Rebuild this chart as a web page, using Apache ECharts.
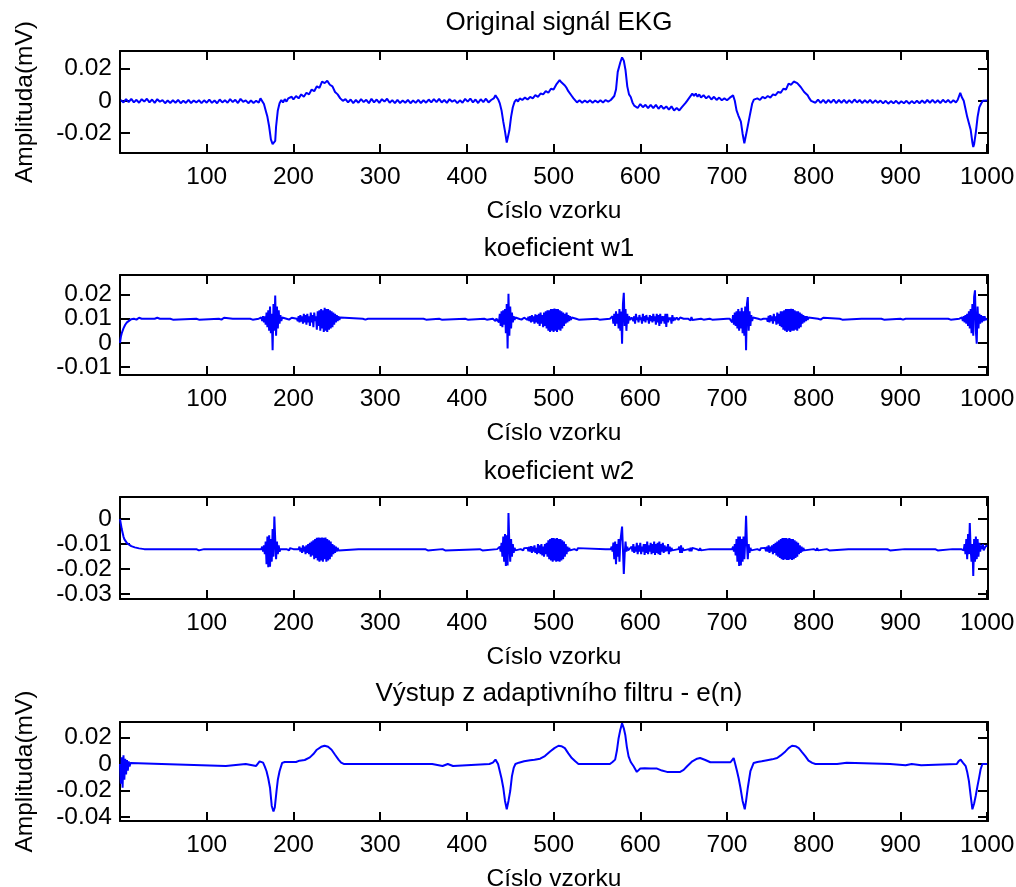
<!DOCTYPE html>
<html>
<head>
<meta charset="utf-8">
<script src="https://cdn.jsdelivr.net/npm/echarts@6/dist/echarts.min.js"></script>
<style>
html,body{margin:0;padding:0;background:#fff;}
#chart{width:1016px;height:887px;}
</style>
</head>
<body>
<div id="chart"></div>
<script>
// ---------- DATA (sample index, value in 1e-3 mV units) ----------
const titles = ['Original signál EKG', 'koeficient w1', 'koeficient w2', 'Výstup z adaptivního filtru - e(n)'];
const xLabel = 'Císlo vzorku';
const yLabel = 'Amplituda(mV)';
const xTicks = [100, 200, 300, 400, 500, 600, 700, 800, 900, 1000];
const yTicks1 = [-0.02, 0, 0.02];
const yTicks2 = [-0.01, 0, 0.01, 0.02];
const yTicks3 = [-0.03, -0.02, -0.01, 0];
const yTicks4 = [-0.04, -0.02, 0, 0.02];
const yRange1 = [-0.0325, 0.031];
const yRange2 = [-0.0132, 0.028];
const yRange3 = [-0.0319, 0.0088];
const yRange4 = [-0.0432, 0.0318];

const ekgOriginal = [
[1,0.5],[4,-1],[7,1],[10,-0.8],[13,1.2],[16,-1],[19,0.6],[22,-1.2],[25,1],[28,-0.5],[31,1.3],[34,-1],[37,0.8],[40,-1.3],[43,1],[46,-0.6],[49,0.4],[52,-1.5],[55,0.2],[58,-1.4],[61,0.3],[64,-1.2],[67,0.5],[70,-1.5],[73,0],[76,-1.3],[79,0.6],[82,-1.4],[85,0.2],[88,-1],[91,0.4],[94,-1.5],[97,0.3],[100,-1.2],[103,0.7],[106,-1.3],[109,0.2],[112,-1.5],[115,0.8],[118,-1],[121,0.4],[124,-1.2],[127,1],[130,-0.8],[133,0.6],[136,-1.4],[139,1.2],[142,-0.6],[145,0.3],[148,-1.5],[151,0.2],[154,-1.4],[157,0],[160,-1.2],
[162,1.5],[164,1.2],[166,-2],[168,-6],[170,-10],[172,-16],[174,-24],[176,-27],[178,-27],[179,-25],[180,-16],[182,-6],[184,-1.5],[186,0.5],[188,-1],[190,1],
[192,-0.5],[194,1.5],[196,0.5],[198,2.5],[200,0.8],[203,3],[206,1.5],[209,4],[212,2.5],[215,5],[218,4],[221,7],[224,6],[227,9],[230,8],[233,12],[236,11],[239,12.5],[242,10],[245,9],[248,5.5],[251,4],[254,1.5],[257,0],[260,1],[263,-1],
[266,0.8],[269,-1.4],[272,0.5],[275,-1.2],[278,1],[281,-0.8],[284,0.6],[287,-1.5],[290,1.2],[293,-1],[296,0.8],[299,-1.3],[302,1],[305,-0.5],[308,1.3],[311,-1.2],[314,0.4],[317,-1.5],[320,0.6],[323,-1.4],[326,0.2],[329,-1.2],[332,0.5],[335,-1.5],[338,0.2],[341,-1.3],[344,0.6],[347,-1.4],[350,0.3],[353,-1.2],[356,0.8],[359,-1],[362,1],[365,-0.8],[368,1.2],[371,-1],[374,0.5],[377,-1.3],[380,1],[383,-0.6],[386,0.4],[389,-1.5],[392,0.3],[395,-1.2],[398,1.2],[401,-0.5],[404,1.4],[407,-1],[410,0.8],[413,-1.4],[416,1],[419,-0.8],[422,1.3],[425,-1],[428,0.5],
[431,1.5],[433,3.4],[436,1],[438,-1.6],[440,-6],[442,-13],[444,-19],[446,-26],[447,-27],[449,-18.5],[451,-10],[453,-4],[455,-0.7],[457,0.8],
[459,-0.5],[461,1.5],[464,0.5],[467,2],[470,0.8],[473,2.4],[476,1.5],[479,3.5],[482,2.5],[485,4.5],[488,4],[491,6],[494,5],[497,7.5],[500,7],[503,10],[505,10.5],[507,12.8],[509,11.5],[511,12],[513,9.5],[515,8],[517,6],[519,5.5],[521,3],[523,1.5],[525,0.3],[527,-1],
[530,0.3],[533,-1.2],[536,0.2],[539,-1],[542,0.3],[545,-1.2],[548,0.2],[551,-1],[554,0.4],[557,-1],[560,0.5],[563,-0.5],[566,0.5],
[568,1],[570,3],[572,7],[574,18],[576,22],[577,24],[579,27],[580,27.5],[581,25],[583,19],[585,9],[587,4],[589,2.4],[591,-1],[593,-3],[595,-2],[597,-4.5],[600,-2],[603,-4],[606,-2.5],[609,-4.5],[612,-2.5],[615,-4.5],[618,-2.5],[621,-5],[624,-3],[627,-5],[630,-3.5],[633,-5.5],[636,-3.5],[639,-6],[642,-4.5],[645,-6],[648,-4],[650,-3],[652,-1.5],[654,0],[656,1.5],[658,2],[660,4.5],[662,3],[664,4.5],[666,2.5],[668,4],[670,2],[673,3.5],[676,1.5],[679,3],[682,0.8],[685,2.5],[688,0.5],[691,2],[694,0.3],[697,1.5],[700,0.3],[703,1.8],[705,2.5],[707,3.4],
[709,0],[711,-6],[713,-9],[716,-13],[718,-20.5],[720,-26.4],[721,-26],[723,-18.4],[726,-10],[729,-1.8],[731,0.7],[733,-0.5],
[735,1.5],[738,0.5],[741,2.5],[744,1.5],[747,3],[750,2],[753,4],[756,3.5],[759,5.5],[762,5],[765,7.5],[768,7],[771,10.7],[774,10],[777,12],[779,12.4],[781,11],[783,10.5],[785,8.6],[787,8],[789,5.5],[791,4.5],[793,3.4],[795,1.5],[797,0],[799,0.5],
[802,-1.2],[805,0.8],[808,-1.3],[811,0.6],[814,-1.5],[817,0.5],[820,-1.2],[823,0.8],[826,-1.4],[829,0.5],[832,-1.2],[835,0.6],[838,-1.5],[841,0.4],[844,-1.3],[847,0.8],[850,-1],[853,0.5],[856,-1.4],[859,0.3],[862,-1.2],[865,0.6],[868,-1.5],[871,0.3],[874,-1.2],[877,0.1],[880,-1.6],[883,0],[886,-1.8],[889,-0.2],[892,-1.6],[895,0],[898,-1.8],[901,-0.3],[904,-1.5],[907,0],[910,-1.8],[913,-0.2],[916,-1.6],[919,0],[922,-1.5],[925,0.2],[928,-1.4],[931,0.5],[934,-1.2],[937,0.6],[940,-1.3],[943,0.3],[946,-1.4],[949,0.6],[952,-1],[955,0.5],[958,-1.3],[961,0.3],[964,-1],[966,0.5],
[968,1],[969,4.9],[971,2],[973,0],[975,-5],[977,-10],[979,-14],[981,-18],[983,-26],[984,-28.8],[985,-27],[987,-19.5],[989,-10],[991,-4],[993,-1.8],[995,0],[997,-0.5],[1000,0.2]
];

const coefW1 = [
[0,0],[1,2.5],[2,4],[3,3.5],[4,6],[5,5.5],[6,7.5],[8,8.5],[10,9.3],[13,9.8],[16,10],[19,9.6],[20,10.4],[21,9.6],[22,10.4],[23,9.6],[24,10.4],[25,10],[40,10],[42,9.6],[43,10.4],[44,9.6],[45,10.4],[46,10],[58,10],[59,9.6],[60,10.4],[61,9.6],[62,10.4],[63,10],[88,10],[89,9.6],[90,10.4],[91,9.6],[92,10],[114,10],[115,9.6],[116,10.4],[117,9.6],[118,10.4],[119,9.6],[120,10.4],[121,10],[130,10],[131,9.6],[132,10.4],[133,10],[150,10],[151,9.6],[152,10.4],[153,9.6],[154,10.4],[155,10],[160,10],
[162,9.5],[163,10.5],[164,9],[165,11],[166,8.5],[167,11],[168,7.5],[169,12.5],[170,6.5],[171,13.5],[172,5],[173,15],[174,4],[175,12],[176,-3],[177,16],[178,5],[179,19.5],[180,3],[181,15],[182,6],[183,13.5],[184,8],[185,11.5],[186,9],[187,10.5],[188,10],
[192,10],[193,9.6],[194,10.4],[195,9.6],[196,10.4],[197,9.6],[198,10.4],[199,10],
[204,10],[205,9],[206,11],[207,8.5],[208,11.5],[209,8.8],[210,11],[211,8],[212,12],[213,8.5],[214,11.5],[215,7.5],[216,12],[217,8.5],[218,11],[219,7],[220,12.5],[221,8.5],[222,11.5],[223,6.5],[224,12.5],[225,9],[226,11],[227,5.5],[228,13],[229,7],[230,13.5],[231,5],[232,14],[233,6],[234,13.5],[235,4.5],[236,14.5],[237,5],[238,14],[239,4.5],[240,14],[241,5.5],[242,13.5],[243,6],[244,13],[245,6.5],[246,12.5],[247,7.5],[248,12],[249,8.5],[250,11.5],[251,9],[252,11],[253,9.5],[254,10.5],[256,10],
[280,10],[281,9.6],[282,10.4],[283,9.6],[284,10.4],[285,9.6],[286,10],[295,10],[296,9.6],[297,10.4],[298,10],[350,10],[351,9.6],[352,10.4],[353,9.6],[354,10.4],[355,10],[368,10],[369,9.6],[370,10.4],[371,9.6],[372,10.4],[373,10],[398,10],[399,9.6],[400,10.4],[401,9.6],[402,10],[420,10],[421,9.6],[422,10.4],[423,9.6],[424,10.4],[425,10],[430,10],[431,9.4],[432,10.6],[433,9],[434,10],
[436,10],[437,8.5],[438,12],[439,7],[440,13],[441,6.5],[442,13.5],[443,7.5],[444,14],[445,4],[446,16],[447,-2.3],[448,20.3],[449,3],[450,15],[451,6],[452,12.5],[453,8.5],[454,11],[455,9.5],[456,10.5],[457,10],
[460,10],[461,9.6],[462,10.4],[463,9.6],[464,10.4],[465,9.6],[466,10.4],[467,10],
[470,9.5],[471,10.8],[472,9],[473,11],[474,8.5],[475,11.5],[476,8.8],[477,11],[478,8],[479,11.8],[480,8.5],[481,11.5],[482,8],[483,12],[484,7],[485,12.5],[486,8],[487,11.5],[488,6.5],[489,12.5],[490,7],[491,13],[492,6],[493,13.5],[494,5],[495,13.5],[496,4.5],[497,14],[498,5],[499,14],[500,4.5],[501,14.2],[502,5],[503,14],[504,4.5],[505,14],[506,5.5],[507,13.5],[508,5],[509,13],[510,6],[511,12.5],[512,7],[513,12],[514,8],[515,12.5],[516,8.5],[517,11.5],[518,9],[519,11],[520,9.5],[521,10.5],[523,10],[526,10],[527,9.6],[528,10.4],[529,9.6],[530,10],
[550,10],[551,9.6],[552,10.4],[553,9.6],[554,10.4],[555,10],[565,10],
[567,9.5],[568,11],[569,8],[570,12],[571,7],[572,13],[573,8],[574,12],[575,6],[576,14],[577,5],[578,13],[579,-0.3],[580,16],[581,20.7],[582,7],[583,14],[584,5],[585,12],[586,8],[587,11],[588,9.5],[590,10.5],
[592,9],[593,11],[594,8],[595,12],[596,9.5],[597,10.5],[598,8.5],[599,11.5],[600,9.5],[601,10.5],[602,8],[603,12],[604,9],[605,11],[606,8.5],[607,11.5],[608,9.5],[609,10.5],[610,8],[611,11.5],[612,9],[613,11],[614,8.5],[615,12],[616,9],[617,11],[618,7.5],[619,12],[620,8.5],[621,11.5],[622,7],[623,12],[624,8],[625,11],[626,9],[627,11],[628,8],[629,12],[630,6.6],[631,12],[632,8.5],[633,10.5],[634,9.5],[635,10.5],[636,8],[637,11.5],[638,9],[639,10.5],[640,9.5],[642,10.5],[644,9.5],[646,10.5],[648,9.8],[650,10],
[655,10],[656,9.5],[657,10.5],[658,9.3],[659,10.7],[660,9.5],[661,10.3],[662,10],[670,10],[671,9.6],[672,10.4],[673,9.6],[674,10.4],[675,10],[680,10],[681,9.5],[682,10.5],[683,9.6],[684,10],[700,10],
[703,10],[704,9.5],[705,10.5],[706,8.5],[707,11.5],[708,7.5],[709,12.5],[710,7],[711,13],[712,6],[713,14],[714,5],[715,13],[716,6],[717,14.5],[718,4],[719,13],[720,3],[721,15],[722,-3],[723,16],[724,18.9],[725,5],[726,13],[727,7],[728,11.5],[729,9],[730,10.5],[731,10],
[736,10],[737,9.5],[738,10.5],[739,9.6],[740,10.4],[741,9.6],[742,10],
[746,10],[747,8.8],[748,11.2],[749,8.5],[750,11.5],[751,9],[752,11],[753,8],[754,12],[755,9],[756,11],[757,7.5],[758,12.5],[759,8],[760,12],[761,7],[762,13],[763,6.5],[764,13],[765,5.5],[766,13.5],[767,5],[768,14],[769,4.5],[770,14],[771,5],[772,14],[773,4.5],[774,14.1],[775,5],[776,14],[777,5],[778,13.5],[779,5.5],[780,13],[781,5],[782,13],[783,6],[784,12.5],[785,6.5],[786,12],[787,8],[788,11.5],[789,8.5],[790,11],[791,9],[792,11],[793,9.5],[794,10.5],[796,10],
[805,10],[806,9.6],[807,10.4],[808,9.6],[809,10.4],[810,9.6],[811,10.4],[812,10],[830,10],[831,9.6],[832,10.4],[833,9.6],[834,10.4],[835,10],[855,10],[856,9.6],[857,10.4],[858,10],[878,10],[879,9.6],[880,10.4],[881,9.6],[882,10],[900,10],[901,9.6],[902,10.4],[903,9.6],[904,10.4],[905,9.6],[906,10],[920,10],[921,9.6],[922,10.4],[923,10],[955,10],[956,9.6],[957,10.4],[958,9.6],[959,10],[968,10],
[970,9.5],[971,10.5],[972,9],[973,11],[974,8.5],[975,11.5],[976,8],[977,12],[978,7],[979,13],[980,6],[981,14],[982,4],[983,16],[984,3],[985,19],[986,21.7],[987,5],[988,-0.3],[989,15],[990,6],[991,12],[992,8],[993,11.5],[994,8.5],[995,11],[996,9],[997,11],[998,9.5],[1000,10]
];

const coefW2 = [
[0,0],[1,-2],[2,-4],[3,-5.5],[4,-7],[5,-8],[6,-8.6],[8,-9.6],[10,-10.3],[13,-10.8],[17,-11.3],[22,-11.7],[28,-12],
[45,-12],[46,-12.5],[47,-11.6],[48,-12],[70,-12],[71,-12.5],[72,-11.6],[73,-12],[88,-12],[89,-12.5],[90,-11.6],[91,-12.5],[92,-12],[97,-12],[98,-12.5],[99,-11.6],[100,-12],[110,-12],[111,-12.5],[112,-11.6],[113,-12],[128,-12],[129,-12.5],[130,-11.6],[131,-12],[145,-12],[146,-12.5],[147,-11.6],[148,-12],[160,-12],
[163,-12],[164,-11],[165,-13],[166,-10.5],[167,-14],[168,-9],[169,-18],[170,-7],[171,-19.2],[172,-6.5],[173,-19],[174,-8],[175,-17],[176,-4],[177,-15],[178,1],[179,-8],[180,-16],[181,-9],[182,-14],[183,-10.5],[184,-13],[185,-12],
[192,-12],[193,-12.5],[194,-11.6],[195,-12.5],[196,-11.6],[197,-12],[200,-12],[201,-12.5],[202,-11.6],[203,-12],
[206,-12],[207,-11],[208,-13],[209,-11.5],[210,-13.5],[211,-10.5],[212,-13],[213,-11],[214,-14],[215,-10.5],[216,-13.5],[217,-10],[218,-14],[219,-9.5],[220,-15],[221,-9],[222,-14.5],[223,-8.5],[224,-16],[225,-8],[226,-15.5],[227,-7.5],[228,-16.5],[229,-7.4],[230,-17],[231,-7.5],[232,-16.5],[233,-7.4],[234,-17],[235,-7.5],[236,-16],[237,-7.4],[238,-17],[239,-8],[240,-16.5],[241,-8.5],[242,-16],[243,-9],[244,-15],[245,-10],[246,-14],[247,-10.5],[248,-13.5],[249,-11],[250,-13],[251,-11.5],[252,-12.5],[254,-12],
[275,-12],[276,-12.5],[277,-11.6],[278,-12],[283,-12],[284,-12.5],[285,-11.6],[286,-12],[300,-12],[301,-12.5],[302,-11.6],[303,-12],[331,-12],[332,-12.5],[333,-11.6],[334,-12],[352,-12],[353,-12.5],[354,-11.6],[355,-12.5],[356,-12],[372,-12],[373,-12.5],[374,-11.6],[375,-12.5],[376,-12],[415,-12],[416,-12.5],[417,-11.6],[418,-12.5],[419,-12],[435,-12],
[437,-12],[438,-11],[439,-13],[440,-9.5],[441,-15],[442,-7],[443,-17],[444,-6],[445,-18.7],[446,-6.5],[447,-18.5],[448,2.4],[449,-10],[450,-17],[451,-8],[452,-15],[453,-10],[454,-13.5],[455,-11.5],[456,-12.5],[457,-12],
[462,-12],[463,-12.5],[464,-11.6],[465,-12.5],[466,-11.6],[467,-12],
[470,-11.5],[471,-12.8],[472,-11],[473,-13],[474,-10.8],[475,-13.5],[476,-11],[477,-13],[478,-10.5],[479,-13.5],[480,-11.5],[481,-14],[482,-10],[483,-13.5],[484,-10.5],[485,-14],[486,-10],[487,-14.5],[488,-11],[489,-15],[490,-10],[491,-14],[492,-9.5],[493,-15],[494,-8.5],[495,-16],[496,-8],[497,-16.5],[498,-7.6],[499,-17],[500,-7.6],[501,-16.5],[502,-7.8],[503,-17],[504,-7.6],[505,-16.8],[506,-8],[507,-17],[508,-8],[509,-16.5],[510,-8.5],[511,-16],[512,-9],[513,-15],[514,-10],[515,-14],[516,-11],[517,-13],[518,-11.5],[519,-12.5],[521,-12],
[524,-12],[525,-12.5],[526,-11.6],[527,-12.5],[528,-11.6],[529,-12],[560,-12],[561,-12.5],[562,-11.6],[563,-12],
[566,-12],[567,-11],[568,-13],[569,-9.4],[570,-16],[571,-9],[572,-18],[573,-10],[574,-15],[575,-8],[576,-17],[577,-9],[578,-6],[579,-3],[580,-12],[581,-21.9],[582,-14],[583,-9],[584,-13],[585,-11],[586,-12.5],[588,-12],
[590,-11],[591,-13],[592,-10],[593,-13.5],[594,-11],[595,-13],[596,-9.5],[597,-14],[598,-10.5],[599,-13],[600,-9.5],[601,-14],[602,-11],[603,-13],[604,-10],[605,-14.3],[606,-10],[607,-13.5],[608,-9],[609,-14],[610,-10.5],[611,-13],[612,-9.5],[613,-14],[614,-10],[615,-13.5],[616,-9],[617,-14.3],[618,-10],[619,-13.5],[620,-9.5],[621,-14],[622,-9],[623,-14.3],[624,-10],[625,-13],[626,-9.5],[627,-13.5],[628,-10.5],[629,-13],[630,-11],[631,-12.8],[632,-10],[633,-14],[634,-11],[635,-13],[636,-11.5],[637,-12.5],[638,-12],[644,-12],[645,-11],[646,-13.5],[647,-10.5],[648,-13.5],[649,-11.5],[650,-12.5],[651,-12],
[656,-12],[657,-12.8],[658,-11.5],[659,-12.8],[660,-11.5],[661,-12],[665,-12],[666,-12.5],[667,-11.6],[668,-12.5],[669,-11.6],[670,-12.5],[671,-12],[680,-12],[681,-12.5],[682,-11.6],[683,-12],[700,-12],
[706,-12],[707,-11],[708,-13],[709,-10],[710,-14.5],[711,-8],[712,-17],[713,-7],[714,-18.7],[715,-7],[716,-18.5],[717,-8],[718,-17],[719,-7],[720,-16],[721,-9],[722,1.3],[723,-10],[724,-16],[725,-10],[726,-13.5],[727,-11.5],[728,-12.5],[729,-12],
[735,-12],[736,-12.5],[737,-11.6],[738,-12.5],[739,-11.6],[740,-12],
[744,-11.5],[745,-12.8],[746,-11],[747,-13],[748,-10.5],[749,-13.5],[750,-11],[751,-13],[752,-10.5],[753,-14],[754,-10],[755,-13.5],[756,-9.5],[757,-14.5],[758,-9],[759,-15],[760,-8.5],[761,-15.5],[762,-8],[763,-16],[764,-7.6],[765,-16.3],[766,-7.6],[767,-16],[768,-7.6],[769,-16.3],[770,-7.8],[771,-16.3],[772,-7.6],[773,-16],[774,-8],[775,-16.3],[776,-8],[777,-16],[778,-8.5],[779,-15.5],[780,-9],[781,-15],[782,-9.5],[783,-14],[784,-10.5],[785,-13.5],[786,-11],[787,-13],[788,-11.5],[789,-12.5],[791,-12],
[800,-12],[801,-12.5],[802,-11.6],[803,-12.5],[804,-11.6],[805,-12.5],[806,-12],[815,-12],[816,-12.5],[817,-11.6],[818,-12.5],[819,-12],[840,-12],[841,-12.5],[842,-11.8],[843,-12],[865,-12],[866,-12.6],[867,-12],[885,-12],[886,-12.5],[887,-11.6],[888,-12.5],[889,-12],[905,-12],[906,-12.5],[907,-12],[940,-12],[941,-12.5],[942,-11.6],[943,-12.5],[944,-12],[960,-12],[961,-12.5],[962,-11.6],[963,-12],[970,-12],
[972,-11.5],[973,-12.5],[974,-10],[975,-14],[976,-8],[977,-16],[978,-6],[979,-14],[980,-1.6],[981,-12],[982,-17],[983,-10],[984,-22.7],[985,-8],[986,-17],[987,-7],[988,-16],[989,-8],[990,-15],[991,-9.5],[992,-13],[993,-10.5],[994,-12],[995,-10],[996,-12.5],[998,-11],[1000,-10.5]
];

const filterOut = [
[0,0],[1,-15],[2,5],[3,-18],[4,6.5],[5,-12],[6,4],[7,-8],[8,3],[9,-5],[10,2],[11,-2],[12,0.8],[14,0],[48,0],[50,-1.5],[122,-1.5],[124,0],[145,0],[147,-1.5],[157,-1.5],[159,0],[161,2],[163,3.3],[165,1],[167,-2],[169,-5.5],[171,-11],[173,-18],[175,-31.8],[177,-36],[178.5,-33],[180.5,-20.5],[182,-12],[184,-5.5],[187,0.8],[190,1.5],[203,1.5],[207,2.5],[213,3],[219,5],[223,7.5],[227,10.8],[232,13],[236,13.8],[240,13],[244,10.8],[248,7],[252,3.3],[255,1],[258,0],[304,0],[306,1],[308,0],[360,0],[362,-1.5],[372,-1.5],[374,0],[378,0],[380,-1.5],[384,-1.5],[386,0],[426,0],[428,-1],[430,1],[433,3.3],[436,0],[438,-5.5],[440,-11],[442,-18],[444,-28],[446,-34.3],[448,-28],[450,-20.5],[452,-9.2],[454,-3],[456,0],[460,1],[466,2],[473,2.8],[478,3.2],[484.5,4],[490,6],[496,9.5],[501,12],[505.7,13.8],[509,13.5],[513,12],[517,8],[521,4.5],[525,2],[528.7,0],[565,0],[568,1.5],[571,3.3],[573,10],[575,19.5],[577,26],[579,30.8],[581,27],[582.7,22],[584.5,13],[586.5,5.8],[589,1.5],[592.3,-1.7],[596,-6],[600,-3.5],[605,-3.2],[612,-3.5],[619.3,-3.5],[625,-5],[630.8,-6],[646,-6],[650,-4.5],[654,-1.7],[660,2],[665.5,4],[669,4.5],[675,3],[680.8,1.3],[704,1.3],[707.7,4.5],[709.5,0],[711.6,-5.5],[713.5,-11],[715.5,-18],[718,-28],[720.5,-34.3],[722,-28],[724,-18],[727,-5.5],[730.8,0.8],[735,1.5],[740,2],[746.3,2.8],[752,3.5],[757.8,4.5],[762,6.5],[767.4,9.5],[771,12],[775,13.8],[779,13.5],[782.8,12],[786.5,9],[790.5,5.8],[794,2.5],[798.3,0.8],[802,0],[827,0],[829,1],[838,1],[840,0],[888,0],[890,-1],[906,-1],[908,0],[913,0],[915,-1],[924,-1],[926,0],[965,0],[967,2],[969.5,3.3],[972,1],[975.3,-1.7],[977,-6],[979,-13],[981,-24],[983,-34.3],[985,-30],[986.8,-24.3],[988.8,-17],[990.7,-10.5],[992.5,-4],[994.5,0],[1000,0]
];

// ---------- CHART ----------
const MILLI = 1e-3;
const toUnits = arr => arr.map(p => [p[0], p[1] * MILLI]);
const seriesData = [ekgOriginal, coefW1, coefW2, filterOut].map(toUnits);
const yTicks = [yTicks1, yTicks2, yTicks3, yTicks4];
const yRanges = [yRange1, yRange2, yRange3, yRange4];

const FONT = 'Liberation Sans, Arial, Helvetica, sans-serif';
const layout = [
  {top: 51, height: 102, titleTop: 5},
  {top: 275, height: 100, titleTop: 231},
  {top: 497, height: 102, titleTop: 454},
  {top: 722, height: 99, titleTop: 676}
];
const gridLeft = 120, gridRight = 28;
const xMin = 0, xMax = 1001;
const fmtY = v => String(+Number(v).toFixed(3));

const grid = [], xAxis = [], yAxis = [], series = [], title = [];
layout.forEach((L, i) => {
  grid.push({left: gridLeft, right: gridRight, top: L.top, height: L.height,
             containLabel: false, outerBoundsMode: 'none', show: false});
  title.push({text: titles[i], left: (gridLeft + 1016 - gridRight) / 2, top: L.titleTop,
              textAlign: 'center',
              textStyle: {fontFamily: FONT, fontSize: 26, fontWeight: 'normal', color: '#000'}});
  const lineStyle = {color: '#000', width: 2};
  xAxis.push({type: 'value', gridIndex: i, min: xMin, max: xMax, position: 'bottom',
    axisLine: {show: true, onZero: false, lineStyle},
    axisTick: {show: true, inside: true, length: 9, lineStyle, customValues: xTicks},
    axisLabel: {show: true, margin: 12, color: '#000', fontFamily: FONT, fontSize: 24.5,
                customValues: xTicks, hideOverlap: false, showMinLabel: true, showMaxLabel: true,
                formatter: v => String(v)},
    splitLine: {show: false},
    name: xLabel, nameLocation: 'middle', nameGap: 46,
    nameTextStyle: {color: '#000', fontFamily: FONT, fontSize: 24.5}});
  xAxis.push({type: 'value', gridIndex: i, min: xMin, max: xMax, position: 'top',
    axisLine: {show: true, onZero: false, lineStyle},
    axisTick: {show: true, inside: true, length: 9, lineStyle, customValues: xTicks},
    axisLabel: {show: false}, splitLine: {show: false}});
  const ticks = yTicks[i];
  const labelsA = ticks.filter((_, k) => k % 2 === 0);
  const labelsB = ticks.filter((_, k) => k % 2 === 1);
  const labelBase = {show: true, margin: 8, color: '#000', fontFamily: FONT, fontSize: 24.5,
                     hideOverlap: false, showMinLabel: true, showMaxLabel: true, formatter: fmtY};
  // main left axis (line, ticks, even-indexed labels)
  const yl = {type: 'value', gridIndex: i, min: yRanges[i][0], max: yRanges[i][1], position: 'left',
    axisLine: {show: true, onZero: false, lineStyle},
    axisTick: {show: true, inside: true, length: 10, lineStyle, customValues: ticks},
    axisLabel: Object.assign({}, labelBase, {customValues: labelsA}),
    splitLine: {show: false}};
  if (i === 0 || i === 3) {
    yl.name = yLabel; yl.nameLocation = 'middle'; yl.nameGap = 82;
    yl.nameTextStyle = {color: '#000', fontFamily: FONT, fontSize: 24.5};
  }
  yAxis.push(yl);
  // right axis (line + ticks)
  yAxis.push({type: 'value', gridIndex: i, min: yRanges[i][0], max: yRanges[i][1], position: 'right',
    axisLine: {show: true, onZero: false, lineStyle},
    axisTick: {show: true, inside: true, length: 10, lineStyle, customValues: ticks},
    axisLabel: {show: false}, splitLine: {show: false}});
  // companion left axis carrying the odd-indexed labels (avoids label-overlap hiding)
  yAxis.push({type: 'value', gridIndex: i, min: yRanges[i][0], max: yRanges[i][1], position: 'left',
    offset: 0, axisLine: {show: false}, axisTick: {show: false},
    axisLabel: Object.assign({}, labelBase, {customValues: labelsB}),
    splitLine: {show: false}});
  series.push({type: 'line', xAxisIndex: 2 * i, yAxisIndex: 3 * i, data: seriesData[i],
    showSymbol: false, symbol: 'none', clip: true, silent: true,
    lineStyle: {color: '#0000ff', width: 2}});
});

const chart = echarts.init(document.getElementById('chart'), null, {renderer: 'canvas'});
chart.setOption({animation: false, backgroundColor: '#fff', title, grid, xAxis, yAxis, series,
  tooltip: {show: false}, legend: {show: false}});
</script>
</body>
</html>
